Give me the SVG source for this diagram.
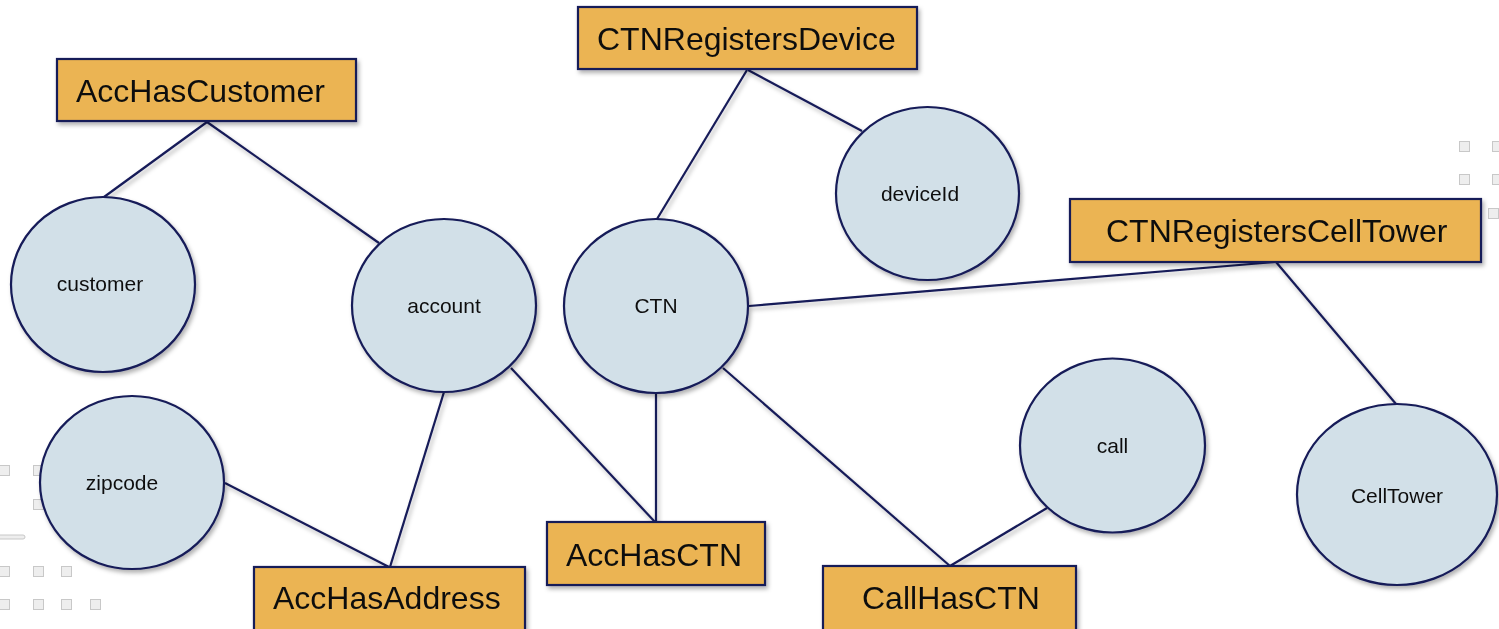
<svg xmlns="http://www.w3.org/2000/svg" width="1499" height="629" viewBox="0 0 1499 629">
  <style>
    .rel rect { fill: #ebb452; stroke: #151a58; stroke-width: 2.2; }
    .ent ellipse { fill: #d2e0e8; stroke: #151a58; stroke-width: 2.2; }
    .rel text { font-family: "Liberation Sans", Arial, sans-serif; font-size: 32px; fill: #111; }
    .ent text { font-family: "Liberation Sans", Arial, sans-serif; font-size: 21px; fill: #111; text-anchor: middle; }
    #connectors line { stroke: #151a58; stroke-width: 2.2; }
    .deco rect { fill: #eeeeee; stroke: #c8c8c8; stroke-width: 1; }
  </style>
  <defs>
    <filter id="shadow" x="-10%" y="-10%" width="125%" height="130%">
      <feDropShadow dx="2" dy="3" stdDeviation="2" flood-color="#000" flood-opacity="0.3"/>
    </filter>
  </defs>

  <rect width="1499" height="629" fill="#ffffff"/>

  <!-- background ornaments -->
  <g class="deco">
    <rect x="1459.5" y="141.5" width="10" height="10"/>
    <rect x="1492.5" y="141.5" width="10" height="10"/>
    <rect x="1459.5" y="174.5" width="10" height="10"/>
    <rect x="1492.5" y="174.5" width="10" height="10"/>
    <rect x="1488.5" y="208.5" width="10" height="10"/>
    <rect x="-0.5" y="465.5" width="10" height="10"/>
    <rect x="33.5" y="465.5" width="10" height="10"/>
    <rect x="33.5" y="499.5" width="10" height="10"/>
    <rect x="-0.5" y="566.5" width="10" height="10"/>
    <rect x="33.5" y="566.5" width="10" height="10"/>
    <rect x="61.5" y="566.5" width="10" height="10"/>
    <rect x="-0.5" y="599.5" width="10" height="10"/>
    <rect x="33.5" y="599.5" width="10" height="10"/>
    <rect x="61.5" y="599.5" width="10" height="10"/>
    <rect x="90.5" y="599.5" width="10" height="10"/>
    <rect x="-2" y="535" width="27" height="4" rx="2" fill="#e4e4e4" stroke="none"/>
  </g>

  <g id="connectors" filter="url(#shadow)">
    <line x1="207" y1="122" x2="104" y2="197"/>
    <line x1="207" y1="122" x2="379" y2="243"/>
    <line x1="444" y1="392" x2="390" y2="567"/>
    <line x1="225" y1="483" x2="389" y2="567"/>
    <line x1="511" y1="368" x2="655" y2="522"/>
    <line x1="656" y1="393" x2="656" y2="522"/>
    <line x1="723" y1="368" x2="950" y2="566"/>
    <line x1="1047" y1="508" x2="950" y2="566"/>
    <line x1="749" y1="306" x2="1275" y2="262"/>
    <line x1="1276" y1="262" x2="1396" y2="404"/>
    <line x1="747" y1="70" x2="657" y2="219"/>
    <line x1="748" y1="70" x2="862" y2="131"/>
  </g>

  <!-- relationship boxes -->
  <g id="AccHasCustomer" class="rel" filter="url(#shadow)">
    <rect x="57" y="59" width="299" height="62"/>
    <text x="76" y="102">AccHasCustomer</text>
  </g>
  <g id="CTNRegistersDevice" class="rel" filter="url(#shadow)">
    <rect x="578" y="7" width="339" height="62"/>
    <text x="597" y="50">CTNRegistersDevice</text>
  </g>
  <g id="CTNRegistersCellTower" class="rel" filter="url(#shadow)">
    <rect x="1070" y="199" width="411" height="63"/>
    <text x="1106" y="242">CTNRegistersCellTower</text>
  </g>
  <g id="AccHasAddress" class="rel" filter="url(#shadow)">
    <rect x="254" y="567" width="271" height="64"/>
    <text x="273" y="609">AccHasAddress</text>
  </g>
  <g id="AccHasCTN" class="rel" filter="url(#shadow)">
    <rect x="547" y="522" width="218" height="63"/>
    <text x="566" y="566">AccHasCTN</text>
  </g>
  <g id="CallHasCTN" class="rel" filter="url(#shadow)">
    <rect x="823" y="566" width="253" height="65"/>
    <text x="862" y="609">CallHasCTN</text>
  </g>

  <!-- entity nodes -->
  <g id="customer" class="ent" filter="url(#shadow)">
    <ellipse cx="103" cy="284.5" rx="92" ry="87.5"/>
    <text x="100" y="291">customer</text>
  </g>
  <g id="account" class="ent" filter="url(#shadow)">
    <ellipse cx="444" cy="305.5" rx="92" ry="86.5"/>
    <text x="444" y="313">account</text>
  </g>
  <g id="zipcode" class="ent" filter="url(#shadow)">
    <ellipse cx="132" cy="482.5" rx="92" ry="86.5"/>
    <text x="122" y="490">zipcode</text>
  </g>
  <g id="CTN" class="ent" filter="url(#shadow)">
    <ellipse cx="656" cy="306" rx="92" ry="87"/>
    <text x="656" y="313">CTN</text>
  </g>
  <g id="deviceId" class="ent" filter="url(#shadow)">
    <ellipse cx="927.5" cy="193.5" rx="91.5" ry="86.5"/>
    <text x="920" y="201">deviceId</text>
  </g>
  <g id="call" class="ent" filter="url(#shadow)">
    <ellipse cx="1112.5" cy="445.5" rx="92.5" ry="87"/>
    <text x="1112.5" y="453">call</text>
  </g>
  <g id="CellTower" class="ent" filter="url(#shadow)">
    <ellipse cx="1397" cy="494.5" rx="100" ry="90.5"/>
    <text x="1397" y="503">CellTower</text>
  </g>
</svg>
